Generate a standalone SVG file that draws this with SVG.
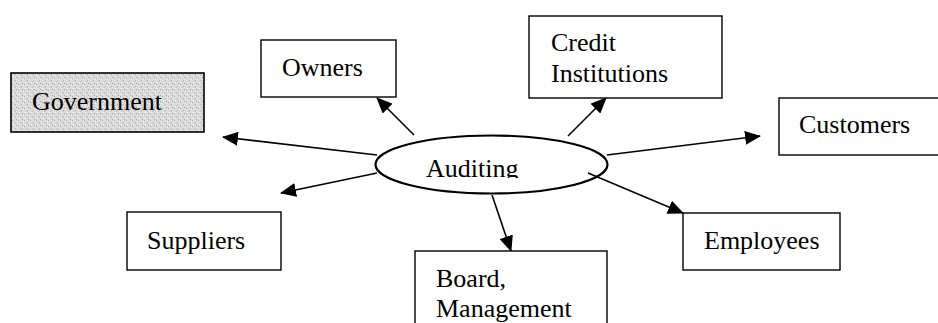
<svg xmlns="http://www.w3.org/2000/svg" width="938" height="323" viewBox="0 0 938 323">
<style>
.box{fill:#fff;stroke:#000;stroke-width:1.4}
.t{font-family:"Liberation Serif","Times New Roman",serif;font-size:26px;fill:#000}
.c{stroke:#000;stroke-width:1.6;fill:none;marker-end:url(#ah)}
</style>
<defs>
<marker id="ah" markerUnits="userSpaceOnUse" markerWidth="16" markerHeight="14" refX="15" refY="7" orient="auto">
<path d="M0,0 L16,7 L0,14 Z" fill="#000"/>
</marker>
<pattern id="stip" width="6" height="6" patternUnits="userSpaceOnUse">
<rect width="6" height="6" fill="#dcdcdc"/>
<rect x="0" y="0" width="1" height="1" fill="#a8a8a8"/>
<rect x="3" y="2" width="1" height="1" fill="#b0b0b0"/>
<rect x="1" y="4" width="1" height="1" fill="#f2f2f2"/>
<rect x="4" y="5" width="1" height="1" fill="#a0a0a0"/>
<rect x="5" y="1" width="1" height="1" fill="#f0f0f0"/>
<rect x="2" y="3" width="1" height="1" fill="#c0c0c0"/>
</pattern>
<clipPath id="audclip"><rect x="380" y="140" width="220" height="38"/></clipPath>
</defs>
<g id="connectors">
<line class="c" x1="377" y1="155" x2="223" y2="137"/>
<line class="c" x1="414" y1="135" x2="377" y2="98"/>
<line class="c" x1="568" y1="136" x2="606" y2="98"/>
<line class="c" x1="607" y1="155" x2="760" y2="136"/>
<line class="c" x1="377" y1="173" x2="281" y2="193"/>
<line class="c" x1="588" y1="173" x2="683" y2="213"/>
<line class="c" x1="492" y1="195" x2="511" y2="251"/>
</g>
<g id="auditing">
<ellipse cx="491.5" cy="164.5" rx="116" ry="29" fill="none" stroke="#000" stroke-width="2.2"/>
<text class="t" x="426" y="177" clip-path="url(#audclip)">Auditing</text>
</g>
<g id="government">
<rect x="11" y="73" width="193" height="59" fill="url(#stip)" stroke="#000" stroke-width="1.6"/>
<text class="t" x="32" y="110">Government</text>
</g>
<g id="owners">
<rect class="box" x="261" y="40" width="135" height="57"/>
<text class="t" x="282" y="76">Owners</text>
</g>
<g id="credit">
<rect class="box" x="529" y="16" width="193" height="82"/>
<text class="t" x="551" y="51">Credit</text>
<text class="t" x="551" y="82">Institutions</text>
</g>
<g id="customers">
<rect class="box" x="779" y="98" width="170" height="57"/>
<text class="t" x="799" y="133">Customers</text>
</g>
<g id="suppliers">
<rect class="box" x="127" y="212" width="154" height="58"/>
<text class="t" x="147" y="249">Suppliers</text>
</g>
<g id="employees">
<rect class="box" x="683" y="213" width="157" height="57"/>
<text class="t" x="704" y="249">Employees</text>
</g>
<g id="board">
<rect class="box" x="415" y="251" width="192" height="90"/>
<text class="t" x="436" y="287">Board,</text>
<text class="t" x="436" y="317">Management</text>
</g>
</svg>
